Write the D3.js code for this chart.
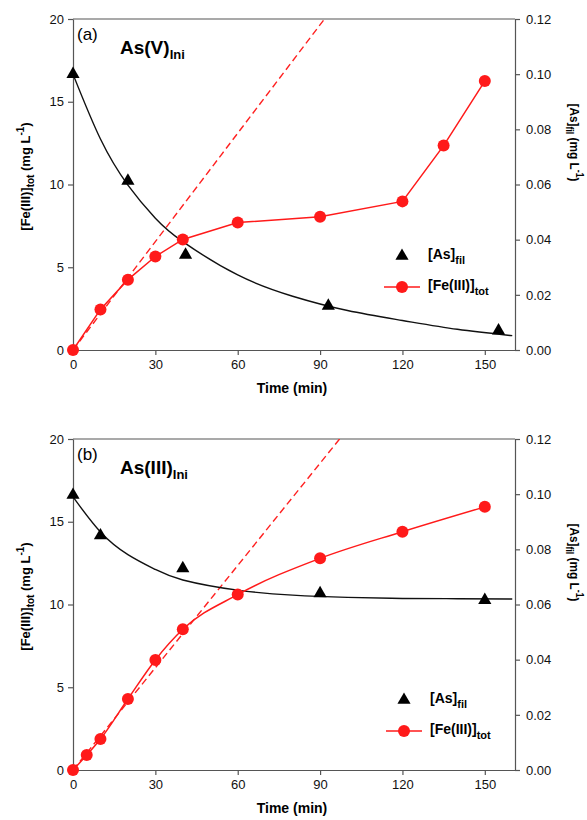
<!DOCTYPE html>
<html>
<head>
<meta charset="utf-8">
<script src="https://cdn.jsdelivr.net/npm/d3@7"></script>
<style>
  body { margin: 0; background: #fff; }
  text { font-family: "Liberation Sans", Arial, sans-serif; }
</style>
</head>
<body>
<div id="chart"></div>
<script>
// ---- data ----
var timeTicks = [0, 30, 60, 90, 120, 150];
var feTicks = [0, 5, 10, 15, 20];
var asTicks = [0, 0.02, 0.04, 0.06, 0.08, 0.10, 0.12];

// panel (a) As(V)
var feTimeA = [0, 10, 20, 30, 40, 60, 90, 120, 135, 150];
var feValA  = [0, 2.45, 4.25, 5.65, 6.68, 7.7, 8.05, 8.98, 12.35, 16.25];
var asTimeA = [0, 20, 41, 93, 155];
var asValA  = [0.100, 0.0613, 0.0345, 0.016, 0.007];
var fitTimeA = [0, 10, 20, 30, 40, 60, 80, 100, 120, 140, 160];
var fitValA  = [0.100, 0.0765, 0.0598, 0.0478, 0.0393, 0.0272, 0.0195, 0.0143, 0.0107, 0.0075, 0.0052];
var dashA = [[0, 0], [91.6, 20]];

// panel (b) As(III)
var feTimeB = [0, 5, 10, 20, 30, 40, 60, 90, 120, 150];
var feValB  = [0, 0.9, 1.87, 4.29, 6.65, 8.5, 10.6, 12.79, 14.4, 15.9];
var asTimeB = [0, 10, 40, 90, 150];
var asValB  = [0.0997, 0.085, 0.0731, 0.064, 0.0616];
var fitTimeB = [0, 10, 20, 30, 40, 60, 80, 100, 120, 140, 160];
var fitValB  = [0.0990, 0.0863, 0.0781, 0.0727, 0.0689, 0.0652, 0.0634, 0.0626, 0.0622, 0.0621, 0.0620];
var dashB = [[0, 0], [97.1, 20]];

var W = 587, H = 820;
var svg = d3.select("#chart").append("svg")
    .attr("width", W)
    .attr("height", H);

var axisColor = "#555";

function drawPanel(p) {
  var x = d3.scaleLinear().domain([0, 161]).range([73, 515]);
  var y = d3.scaleLinear().domain([0, 20]).range([p.bottom, p.top]);
  var y2 = d3.scaleLinear().domain([0, 0.12]).range([p.bottom, p.top]);

  var g = svg.append("g");

  // clip to plot area
  var clipId = "clip" + p.name;
  g.append("clipPath").attr("id", clipId)
    .append("rect")
      .attr("x", 73).attr("y", p.top)
      .attr("width", 442).attr("height", p.bottom - p.top);

  // axes
  var xa = g.append("g")
      .attr("transform", "translate(0," + p.bottom + ")")
      .call(d3.axisBottom(x).tickValues(timeTicks).tickSize(5).tickPadding(5).tickSizeOuter(0));
  var ya = g.append("g")
      .attr("transform", "translate(73,0)")
      .call(d3.axisLeft(y).tickValues(feTicks).tickSize(5).tickPadding(4).tickSizeOuter(0));
  var y2a = g.append("g")
      .attr("transform", "translate(515,0)")
      .call(d3.axisRight(y2).tickValues(asTicks).tickFormat(d3.format(".2f")).tickSize(5).tickPadding(6).tickSizeOuter(0));
  [xa, ya, y2a].forEach(function(a) {
    a.selectAll("path, line").attr("stroke", axisColor).attr("stroke-width", 1.2);
    a.selectAll("text").style("font-size", "13px").attr("fill", "#111");
  });
  // top frame
  g.append("line")
    .attr("x1", 73).attr("x2", 515)
    .attr("y1", p.top).attr("y2", p.top)
    .attr("stroke", axisColor).attr("stroke-width", 1.2);

  var plot = g.append("g").attr("clip-path", "url(#" + clipId + ")");

  // dashed initial slope
  plot.append("path")
    .datum(p.dash)
    .attr("fill", "none")
    .attr("stroke", "#ff2020")
    .attr("stroke-width", 1.4)
    .attr("stroke-dasharray", "7,4")
    .attr("d", d3.line().x(function(d) { return x(d[0]); }).y(function(d) { return y(d[1]); }));

  // As fitted curve
  var fit = p.fitTime.map(function(t, i) { return [t, p.fitVal[i]]; });
  plot.append("path")
    .datum(fit)
    .attr("fill", "none")
    .attr("stroke", "#111")
    .attr("stroke-width", 1.4)
    .attr("d", d3.line().curve(d3.curveNatural)
      .x(function(d) { return x(d[0]); }).y(function(d) { return y2(d[1]); }));

  // Fe line
  var fe = p.feTime.map(function(t, i) { return [t, p.feVal[i]]; });
  g.append("path")
    .datum(fe)
    .attr("fill", "none")
    .attr("stroke", "#ff1a1a")
    .attr("stroke-width", 1.5)
    .attr("d", d3.line().curve(p.smooth ? d3.curveMonotoneX : d3.curveLinear)
      .x(function(d) { return x(d[0]); }).y(function(d) { return y(d[1]); }));

  g.selectAll(".fe" + p.name)
    .data(fe)
    .enter().append("circle")
      .attr("cx", function(d) { return x(d[0]); })
      .attr("cy", function(d) { return y(d[1]); })
      .attr("r", 6)
      .attr("fill", "#ff1a1a");

  // As triangles
  var tri = d3.symbol().type(d3.symbolTriangle).size(75);
  var as = p.asTime.map(function(t, i) { return [t, p.asVal[i]]; });
  g.selectAll(".as" + p.name)
    .data(as)
    .enter().append("path")
      .attr("d", tri)
      .attr("transform", function(d) { return "translate(" + x(d[0]) + "," + y2(d[1]) + ")"; })
      .attr("fill", "#000");

  // panel label
  g.append("text")
    .attr("x", 77).attr("y", p.top + 21)
    .style("font-size", "17px")
    .text(p.letter);

  var t = g.append("text")
    .attr("x", 120).attr("y", p.top + 35)
    .style("font-size", "19px").style("font-weight", "bold");
  t.append("tspan").text(p.title);
  t.append("tspan").attr("dy", 5).style("font-size", "13px").text("Ini");

  // x label
  g.append("text")
    .attr("x", 292).attr("y", p.bottom + 43)
    .attr("text-anchor", "middle")
    .style("font-size", "14px").style("font-weight", "bold")
    .text("Time (min)");

  var mid = (p.top + p.bottom) / 2;
  // left y label
  var yl = g.append("text")
    .attr("transform", "translate(30," + (mid - 8) + ") rotate(-90)")
    .attr("text-anchor", "middle")
    .style("font-size", "13px").style("font-weight", "bold");
  yl.append("tspan").text("[Fe(III)]");
  yl.append("tspan").attr("dy", 4).style("font-size", "10px").text("tot");
  yl.append("tspan").attr("dy", -4).text(" (mg L");
  yl.append("tspan").attr("dy", -6).style("font-size", "10px").text("-1");
  yl.append("tspan").attr("dy", 6).text(")");

  // right y label
  var yr = g.append("text")
    .attr("transform", "translate(570," + (mid - 42) + ") rotate(90)")
    .attr("text-anchor", "middle")
    .attr("textLength", 78)
    .attr("lengthAdjust", "spacingAndGlyphs")
    .style("font-size", "13.5px").style("font-weight", "bold");
  yr.append("tspan").text("[As]");
  yr.append("tspan").attr("dy", 4).style("font-size", "10px").text("fil");
  yr.append("tspan").attr("dy", -4).text(" (mg L");
  yr.append("tspan").attr("dy", -6).style("font-size", "10px").text("-1");
  yr.append("tspan").attr("dy", 6).text(")");

  // legend
  var lx = p.legX, ly = p.legY;
  g.append("path")
    .attr("d", tri)
    .attr("transform", "translate(" + lx + "," + ly + ")")
    .attr("fill", "#000");
  var l1 = g.append("text")
    .attr("x", lx + 26).attr("y", ly + 3)
    .style("font-size", "14px").style("font-weight", "bold");
  l1.append("tspan").text("[As]");
  l1.append("tspan").attr("dy", 5).style("font-size", "11px").text("fil");

  g.append("line")
    .attr("x1", lx - 18).attr("x2", lx + 18)
    .attr("y1", ly + 31).attr("y2", ly + 31)
    .attr("stroke", "#ff1a1a").attr("stroke-width", 1.5);
  g.append("circle")
    .attr("cx", lx).attr("cy", ly + 31).attr("r", 6)
    .attr("fill", "#ff1a1a");
  var l2 = g.append("text")
    .attr("x", lx + 26).attr("y", ly + 34)
    .style("font-size", "14px").style("font-weight", "bold");
  l2.append("tspan").text("[Fe(III)]");
  l2.append("tspan").attr("dy", 5).style("font-size", "11px").text("tot");
}

drawPanel({
  name: "a", letter: "(a)", title: "As(V)", top: 19, bottom: 350,
  feTime: feTimeA, feVal: feValA, asTime: asTimeA, asVal: asValA,
  fitTime: fitTimeA, fitVal: fitValA, dash: dashA, smooth: false,
  legX: 402, legY: 256
});

drawPanel({
  name: "b", letter: "(b)", title: "As(III)", top: 439, bottom: 770,
  feTime: feTimeB, feVal: feValB, asTime: asTimeB, asVal: asValB,
  fitTime: fitTimeB, fitVal: fitValB, dash: dashB, smooth: true,
  legX: 404, legY: 700
});
</script>
</body>
</html>
